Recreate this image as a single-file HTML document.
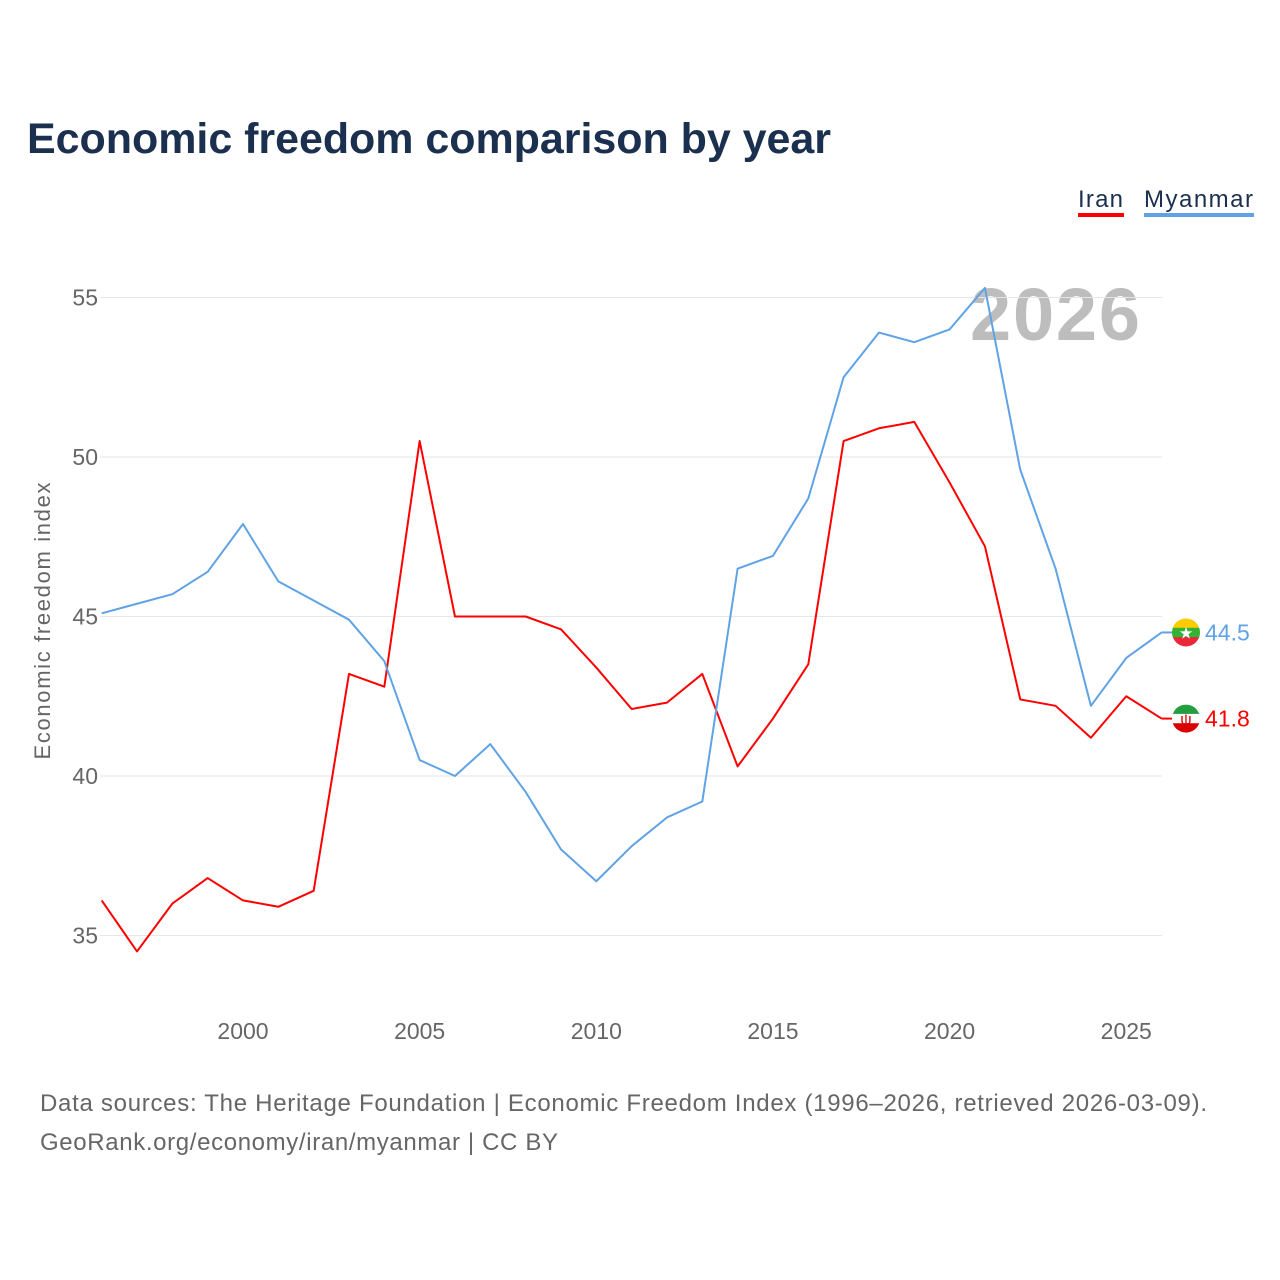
<!DOCTYPE html>
<html><head><meta charset="utf-8">
<style>
body{margin:0;background:#fff;font-family:"Liberation Sans",sans-serif;}
#wrap{position:relative;width:1280px;height:1280px;overflow:hidden;}
</style></head>
<body><div id="wrap">
<svg id="svg" width="1280" height="1280" xmlns="http://www.w3.org/2000/svg">
<text x="27" y="153" font-size="43" font-weight="bold" fill="#1b2f4e" textLength="804">Economic freedom comparison by year</text>
<g>
<text x="1078" y="207" font-size="24" fill="#1b2f4e" textLength="45">Iran</text>
<rect x="1078" y="213" width="46" height="4" fill="#ff0000"/>
<text x="1144" y="207" font-size="24" fill="#1b2f4e" textLength="109">Myanmar</text>
<rect x="1144" y="213" width="110" height="4" fill="#5fa3e6"/>
</g>
<text x="1055" y="340" font-size="74" font-weight="bold" fill="#bdbdbd" text-anchor="middle" textLength="170">2026</text>
<g id="grid"></g>
<g id="xt"></g>
<text transform="translate(50,621) rotate(-90)" font-size="22" fill="#666" text-anchor="middle" textLength="277">Economic freedom index</text>
<g id="lines"></g>
<text x="40" y="1111" font-size="24" fill="#666" textLength="1167">Data sources: The Heritage Foundation | Economic Freedom Index (1996–2026, retrieved 2026-03-09).</text>
<text x="40" y="1150" font-size="24" fill="#666" textLength="518">GeoRank.org/economy/iran/myanmar | CC BY</text>
</svg>
<script>
const years=[1996,1997,1998,1999,2000,2001,2002,2003,2004,2005,2006,2007,2008,2009,2010,2011,2012,2013,2014,2015,2016,2017,2018,2019,2020,2021,2022,2023,2024,2025,2026];
const iran=[36.1,34.5,36.0,36.8,36.1,35.9,36.4,43.2,42.8,50.5,45.0,45.0,45.0,44.6,43.4,42.1,42.3,43.2,40.3,41.8,43.5,50.5,50.9,51.1,49.2,47.2,42.4,42.2,41.2,42.5,41.8];
const myanmar=[45.1,45.4,45.7,46.4,47.9,46.1,45.5,44.9,43.6,40.5,40.0,41.0,39.5,37.7,36.7,37.8,38.7,39.2,46.5,46.9,48.7,52.5,53.9,53.6,54.0,55.3,49.6,46.5,42.2,43.7,44.5];
const yTicks=[35,40,45,50,55];
const xTicks=[2000,2005,2010,2015,2020,2025];
const NS="http://www.w3.org/2000/svg";
const X=v=>243+(v-2000)*35.33;
const Y=v=>776-(v-40)*31.9;
function mk(tag,attrs,parent){const e=document.createElementNS(NS,tag);for(const k in attrs)e.setAttribute(k,attrs[k]);parent.appendChild(e);return e;}
const grid=document.getElementById('grid'),xt=document.getElementById('xt'),lines=document.getElementById('lines');
yTicks.forEach(t=>{
 const l=mk('line',{x1:100,x2:1162,y1:Y(t),y2:Y(t),stroke:'#e6e6e6','stroke-width':1},grid);
 
 
 const tx=mk('text',{x:98,y:Y(t)+8,'font-size':23,fill:'#666','text-anchor':'end'},grid);
 tx.textContent=t;
 
 
});
xTicks.forEach(t=>{
 const tx=mk('text',{x:X(t),y:1039,'font-size':23,fill:'#666','text-anchor':'middle'},xt);
 tx.textContent=t;
 
 
});
function series(vals,color,name){
 const p=mk('polyline',{points:vals.map((v,i)=>X(years[i])+','+Y(v)).join(' '),fill:'none',stroke:color,'stroke-width':2,'stroke-linejoin':'round'},lines);
 
 
 const last=vals[vals.length-1],ly=Y(last);
 const ln=mk('line',{x1:X(2026),x2:1176,y1:ly,y2:ly,stroke:color,'stroke-width':2},lines);
 
 
 const t=mk('text',{x:1205,y:ly+8,'font-size':23,fill:color},lines);
 t.textContent=last.toFixed(1);
 
 
 return ly;
}
const iy=series(iran,'#ff0000','iran');
const my=series(myanmar,'#5fa3e6','myanmar');
function flag(cy,cols,name,mark){
 const g=mk('g',{},lines);
 
 
 const cp=mk('clipPath',{id:'cp'+name},g);
 mk('circle',{cx:1186,cy:cy,r:14},cp);
 cols.forEach((c,i)=>mk('rect',{x:1172,y:cy-14+i*28/3,width:28,height:28/3+0.5,fill:c,'clip-path':'url(#cp'+name+')'},g));
 const m=mk('text',{x:1186,y:cy+6,'font-size':16,fill:mark[1],'text-anchor':'middle'},g);
 m.textContent=mark[0];
}
flag(my,['#fecb00','#34b233','#ea2839'],'myanmar',['★','#fff']);
flag(iy,['#239f40','#ffffff','#da0000'],'iran',['ψ','#da0000']);
</script>
</div></body></html>
